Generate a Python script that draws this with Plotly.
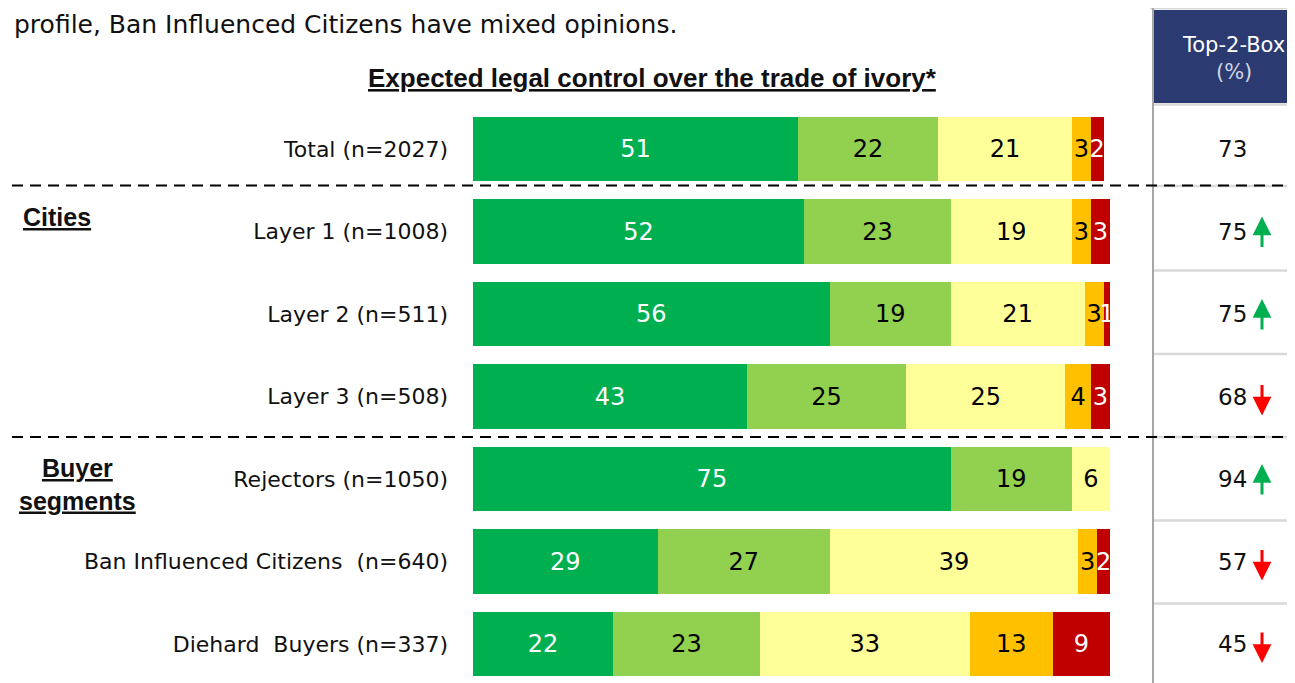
import plotly.graph_objects as go

# ---------------- data ----------------
categories = ["Total (n=2027)", "Layer 1 (n=1008)", "Layer 2 (n=511)", "Layer 3 (n=508)",
              "Rejectors (n=1050)", "Ban Influenced Citizens  (n=640)", "Diehard  Buyers (n=337)"]
series_names = ["Strong control", "Some control", "Neutral", "Little control", "No control"]
s1 = [51, 52, 56, 43, 75, 29, 22]
s2 = [22, 23, 19, 25, 19, 27, 23]
s3 = [21, 19, 21, 25, 6, 39, 33]
s4 = [3, 3, 3, 4, 0, 3, 13]
s5 = [2, 3, 1, 3, 0, 2, 9]
top2 = [73, 75, 75, 68, 94, 57, 45]
trend = ["", "up", "up", "down", "up", "down", "down"]

colors = ["#00B050", "#92D050", "#FFFF99", "#FFC000", "#C00000"]
text_colors = ["white", "black", "black", "black", "white"]

W, H = 1295, 683
OFF = 8  # page body margin


def px_x(p):
    return (p - OFF) / W


def px_y(p):
    return 1 - (p - OFF) / H


ROW0, STEP = 149 - OFF, 82.5
ypos = list(range(len(categories)))

fig = go.Figure()
for name, vals, col, tcol in zip(series_names, [s1, s2, s3, s4, s5], colors, text_colors):
    fig.add_trace(go.Bar(
        y=ypos, x=vals, orientation="h", name=name,
        marker=dict(color=col, line=dict(width=0)),
        width=0.78,
        text=[str(v) if v > 0 else "" for v in vals],
        textposition="inside", insidetextanchor="middle", textangle=0,
        constraintext="none",
        textfont=dict(family="DejaVu Sans", size=24, color=tcol),
        cliponaxis=False, hoverinfo="skip",
    ))

fig.update_layout(
    width=W, height=H, barmode="stack", showlegend=False,
    margin=dict(l=0, r=0, t=0, b=0),
    paper_bgcolor="white", plot_bgcolor="white",
    uniformtext=dict(minsize=24, mode="show"),
    xaxis=dict(range=[0, 100], domain=[px_x(473), px_x(1110)], visible=False, fixedrange=True),
    yaxis=dict(range=[(H - ROW0) / STEP, -ROW0 / STEP], tickvals=ypos, ticktext=categories,
               showgrid=False, zeroline=False, showline=False, ticks="",
               ticklabelstandoff=24,
               tickfont=dict(family="DejaVu Sans", size=22, color="#111111")),
)

shapes = []
# right panel decorations
shapes.append(dict(type="rect", xref="paper", yref="paper", x0=px_x(1154), x1=1, y0=px_y(103), y1=px_y(10),
                   fillcolor="#2B3A70", line=dict(width=0), layer="below"))
shapes.append(dict(type="line", xref="paper", yref="paper", x0=px_x(1150), x1=1, y0=px_y(8.5), y1=px_y(8.5),
                   line=dict(color="#D9D9D9", width=2)))
for yy in [104.5, 186, 270.5, 354, 437, 520.5, 603.5]:
    shapes.append(dict(type="line", xref="paper", yref="paper", x0=px_x(1153), x1=1, y0=px_y(yy), y1=px_y(yy),
                       line=dict(color="#D9D9D9", width=2.5)))
shapes.append(dict(type="line", xref="paper", yref="paper", x0=px_x(1153), x1=px_x(1153), y0=px_y(8), y1=0,
                   line=dict(color="#A6A6A6", width=2)))
# dashed separators
for yy in [185.5, 437]:
    shapes.append(dict(type="line", xref="paper", yref="paper", x0=px_x(12), x1=1, y0=px_y(yy), y1=px_y(yy),
                       line=dict(color="black", width=2, dash="11px,7px")))
fig.update_layout(shapes=shapes)

ann = []
ann.append(dict(text="profile, Ban Influenced Citizens have mixed opinions.", xref="paper", yref="paper",
                x=0.003, y=px_y(24), xanchor="left", yanchor="middle", showarrow=False,
                font=dict(family="DejaVu Sans", size=25, color="#111111")))
ann.append(dict(text="<u>Expected legal control over the trade of ivory*</u>", xref="paper", yref="paper",
                x=px_x(652), y=px_y(78), xanchor="center", yanchor="middle", showarrow=False,
                font=dict(family="Liberation Sans", size=26, color="#111111", weight="bold")))
ann.append(dict(text="<u>Cities</u>", xref="paper", yref="paper",
                x=px_x(21), y=px_y(217), xanchor="left", yanchor="middle", showarrow=False,
                font=dict(family="Liberation Sans", size=25, color="#111111", weight="bold")))
ann.append(dict(text="<u>Buyer</u><br><u>segments</u>", xref="paper", yref="paper",
                x=px_x(77), y=px_y(484), xanchor="center", yanchor="middle", showarrow=False, align="center",
                font=dict(family="Liberation Sans", size=25, color="#111111", weight="bold")))
ann.append(dict(text="Top-2-Box<br><span style='color:#D0D4E2'>(%)</span>", xref="paper", yref="paper",
                x=px_x(1233), y=px_y(59), xanchor="center", yanchor="middle", showarrow=False, align="center",
                font=dict(family="DejaVu Sans", size=21, color="white")))
for i, (v, t) in enumerate(zip(top2, trend)):
    ann.append(dict(text=str(v), xref="paper", yref="y", x=px_x(1232), y=i, xanchor="center", yanchor="middle",
                    showarrow=False, font=dict(family="DejaVu Sans", size=23, color="#111111")))
    if t == "up":
        ann.append(dict(text="", xref="paper", yref="y", x=px_x(1262), y=i - 15 / STEP, ax=0, ay=32,
                        showarrow=True, arrowhead=2, arrowsize=1.25, arrowwidth=3, arrowcolor="#00B050"))
    elif t == "down":
        ann.append(dict(text="", xref="paper", yref="y", x=px_x(1262), y=i + 19 / STEP, ax=0, ay=-32,
                        showarrow=True, arrowhead=2, arrowsize=1.25, arrowwidth=3, arrowcolor="#FF0000"))
fig.update_layout(annotations=ann)

fig.write_html("out.html")
